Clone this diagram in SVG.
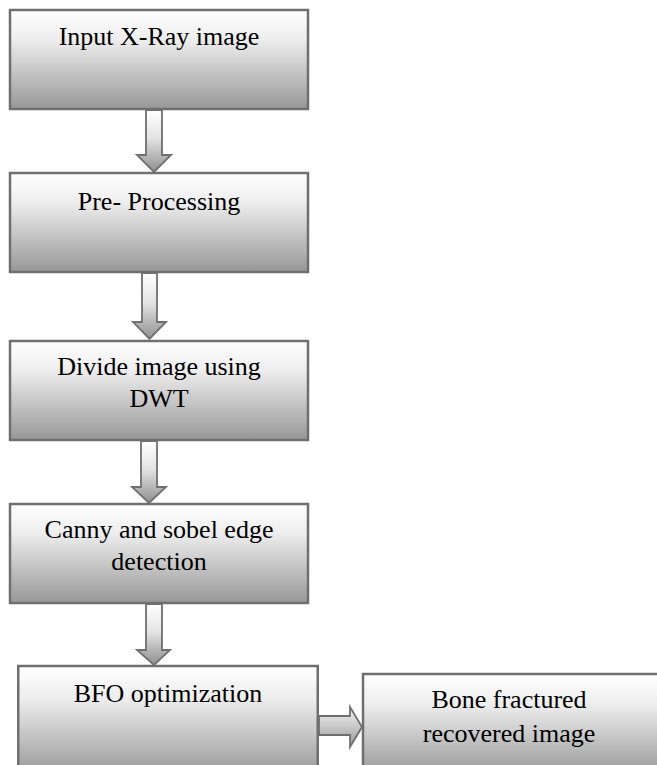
<svg xmlns="http://www.w3.org/2000/svg" width="657" height="765" viewBox="0 0 657 765">
  <defs>
    <linearGradient id="boxFill" x1="0" y1="0" x2="0" y2="1">
      <stop offset="0" stop-color="#ffffff"/>
      <stop offset="0.3" stop-color="#ededed"/>
      <stop offset="1" stop-color="#979797"/>
    </linearGradient>
    <linearGradient id="arrowFill" x1="0" y1="0" x2="0" y2="1">
      <stop offset="0" stop-color="#ffffff"/>
      <stop offset="0.45" stop-color="#e4e4e4"/>
      <stop offset="1" stop-color="#8f8f8f"/>
    </linearGradient>
    <linearGradient id="arrowFillH" x1="0" y1="0" x2="0" y2="1">
      <stop offset="0" stop-color="#f4f4f4"/>
      <stop offset="1" stop-color="#9a9a9a"/>
    </linearGradient>
  </defs>
  <style>
    .box { fill: url(#boxFill); stroke: #6f6f6f; stroke-width: 2.5; }
    .arrow { fill: url(#arrowFill); stroke: #6f6f6f; stroke-width: 1.8; stroke-linejoin: miter; }
    .arrowH { fill: url(#arrowFillH); stroke: #6f6f6f; stroke-width: 1.8; }
    .label { font-size: 26px; fill: #000; text-anchor: middle; }
  </style>

  <rect width="657" height="765" fill="#ffffff"/>

  <!-- connectors -->
  <g id="connectors">
    <polygon class="arrow" points="146,110 162,110 162,155 171,155 154,172 137,155 146,155"/>
    <polygon class="arrow" points="142,273 157,273 157,322 166,322 149.5,339 133,322 142,322"/>
    <polygon class="arrow" points="141,441 157,441 157,487 166,487 149,503 132,487 141,487"/>
    <polygon class="arrow" points="146,604 162,604 162,650 170,650 154,665 137,650 146,650"/>
    <polygon class="arrowH" points="319,716 350,716 350,707 362,727 350,747 350,735 319,735"/>
  </g>

  <!-- nodes -->
  <g font-family="Liberation Serif, Tinos, Times New Roman, DejaVu Serif, serif">
    <g id="node-input">
      <rect class="box" x="10" y="10" width="298" height="99"/>
      <text class="label" x="159" y="45">Input X-Ray image</text>
    </g>
    <g id="node-preprocessing">
      <rect class="box" x="10" y="173" width="298" height="99"/>
      <text class="label" x="159" y="210">Pre- Processing</text>
    </g>
    <g id="node-dwt">
      <rect class="box" x="10" y="341" width="298" height="99"/>
      <text class="label" x="159" y="375">Divide image using</text>
      <text class="label" x="159" y="407">DWT</text>
    </g>
    <g id="node-edge">
      <rect class="box" x="10" y="504" width="298" height="99"/>
      <text class="label" x="159" y="538">Canny and sobel edge</text>
      <text class="label" x="159" y="570">detection</text>
    </g>
    <g id="node-bfo">
      <rect class="box" x="18.25" y="666" width="299.5" height="110"/>
      <text class="label" x="168" y="702">BFO optimization</text>
    </g>
    <g id="node-output">
      <rect class="box" x="363" y="674" width="300" height="102"/>
      <text class="label" x="509" y="708">Bone fractured</text>
      <text class="label" x="509" y="742">recovered image</text>
    </g>
  </g>
</svg>
